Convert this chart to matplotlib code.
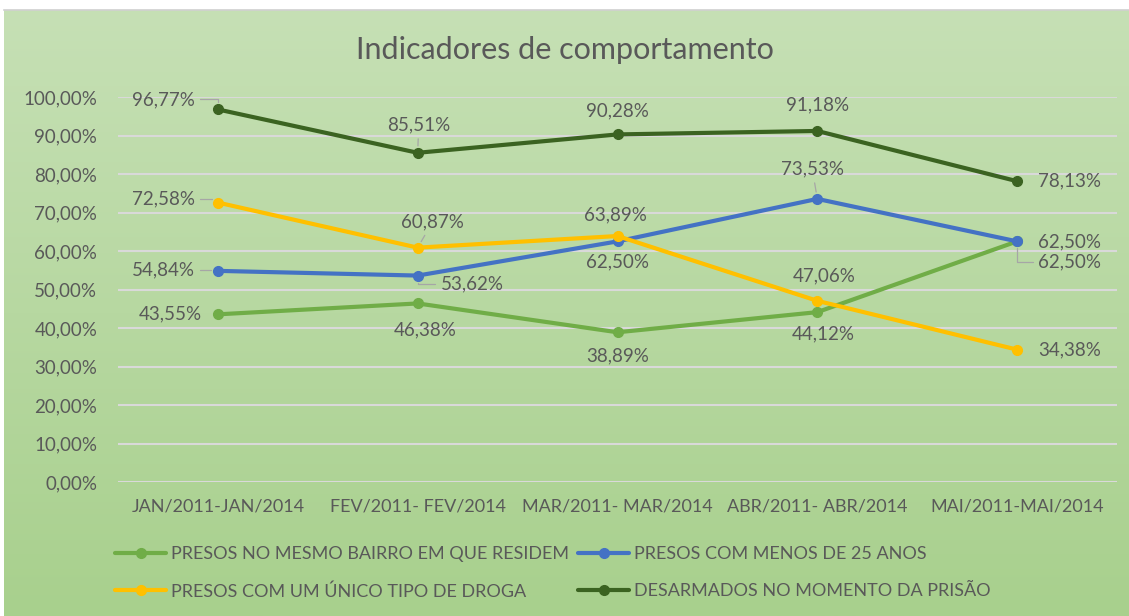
import numpy as np
import matplotlib
matplotlib.use('Agg')
import matplotlib.pyplot as plt
from matplotlib.lines import Line2D
from matplotlib.ticker import FuncFormatter

# dados
periodos = ['JAN/2011-JAN/2014', 'FEV/2011- FEV/2014', 'MAR/2011- MAR/2014',
            'ABR/2011- ABR/2014', 'MAI/2011-MAI/2014']
mesmo_bairro = [43.55, 46.38, 38.89, 44.12, 62.50]
menos_25 = [54.84, 53.62, 62.50, 73.53, 62.50]
unica_droga = [72.58, 60.87, 63.89, 47.06, 34.38]
desarmados = [96.77, 85.51, 90.28, 91.18, 78.13]

nomes = ['PRESOS NO MESMO BAIRRO EM QUE RESIDEM', 'PRESOS COM MENOS DE 25 ANOS',
         'PRESOS COM UM ÚNICO TIPO DE DROGA', 'DESARMADOS NO MOMENTO DA PRISÃO']
cores = ['#70AD47', '#4472C4', '#FFC000', '#3B6321']

# posição dos rótulos (dx, dy em pixels, alinhamento, linha de chamada)
rot_bairro = [(-16, 0, 'right', None), (8, -26, 'center', None), (0, -24, 'center', None),
              (6, -22, 'center', None), (21, -21, 'left', 'angle')]
rot_25 = [(-23, 1, 'right', 'angle'), (23, -8, 'left', 'angle'), (0, -20, 'center', None),
          (-5, 30, 'center', 'reta'), (21, 0, 'left', None)]
rot_droga = [(-23, 4, 'right', 'angle'), (15, 26, 'center', 'reta'), (-2, 21, 'center', None),
             (7, 25, 'center', None), (21, 0, 'left', None)]
rot_desarm = [(-23, 10, 'right', 'angle'), (1, 28, 'center', 'reta'), (0, 24, 'center', None),
              (0, 26, 'center', None), (21, 0, 'left', None)]

cinza = '#595959'
fonte = ['Lato', 'DejaVu Sans']

fig = plt.figure(figsize=(11.29, 6.16), dpi=100)
fig.patch.set_facecolor('white')

# fundo em degradê verde
bg = fig.add_axes([4 / 1129, 0, 1 - 4 / 1129, 606 / 616], zorder=-5)
grad = np.linspace(0, 1, 256)[:, None]
top = np.array([198, 224, 181]) / 255
bot = np.array([168, 208, 141]) / 255
img = top[None, None, :] * (1 - grad[..., None]) + bot[None, None, :] * grad[..., None]
bg.imshow(img, aspect='auto', extent=[0, 1, 0, 1])
bg.set_axis_off()
fig.add_artist(Line2D([4 / 1129, 1], [606 / 616, 606 / 616], color='#D0D0D0', lw=1.2))

ax = fig.add_axes([118 / 1129, 134 / 616, 999 / 1129, 385 / 616])
ax.patch.set_alpha(0)
x = np.arange(len(periodos))

series = [mesmo_bairro, menos_25, unica_droga, desarmados]
rotulos = [rot_bairro, rot_25, rot_droga, rot_desarm]
linhas = []
for vals, cor, nome, rots in zip(series, cores, nomes, rotulos):
    v = np.array(vals) / 100
    ln, = ax.plot(x, v, color=cor, lw=3, marker='o', ms=7, label=nome, zorder=3,
                  solid_capstyle='round')
    linhas.append(ln)
    for xi, vi, (dx, dy, ha, lead) in zip(x, v, rots):
        txt = f'{vi * 100:.2f}%'.replace('.', ',')
        kw = {}
        if lead:
            cs = 'angle,angleA=0,angleB=90,rad=0' if lead == 'angle' else 'arc3'
            kw['arrowprops'] = dict(arrowstyle='-', color='#A6A6A6', lw=0.9,
                                    shrinkA=2, shrinkB=5, connectionstyle=cs)
        ax.annotate(txt, (xi, vi), xytext=(dx, dy), textcoords='offset pixels',
                    ha=ha, va='center', fontsize=13.5, color=cinza,
                    family=fonte, zorder=4, **kw)

ax.set_xlim(-0.5, 4.5)
ax.set_ylim(0, 1)
ax.set_yticks(np.arange(0, 1.01, 0.1))
ax.yaxis.set_major_formatter(FuncFormatter(lambda v, p: f'{v * 100:.2f}%'.replace('.', ',')))
ax.set_xticks(x)
ax.set_xticklabels(periodos, family=fonte, fontsize=13, color=cinza)
for lab in ax.get_yticklabels():
    lab.set_family(fonte)
ax.tick_params(axis='y', length=0, labelsize=13.5, labelcolor=cinza, pad=15)
ax.tick_params(axis='x', length=0, pad=12)
ax.grid(axis='y', color='#D9D9D9', lw=1.5)
ax.set_axisbelow(True)
for s in ax.spines.values():
    s.set_visible(False)

fig.text(0.5, 1 - 50 / 616, 'Indicadores de comportamento', ha='center', va='center',
         fontsize=22, color=cinza, family=fonte)

ordem = [0, 2, 1, 3]
leg = fig.legend([linhas[i] for i in ordem], [nomes[i] for i in ordem], ncol=2,
                 loc='center left', bbox_to_anchor=(99 / 1129, 1 - 573 / 616),
                 frameon=False, handlelength=2.8, handletextpad=0.3,
                 columnspacing=0.5, labelspacing=1.15,
                 prop={'family': fonte, 'size': 13})
for t in leg.get_texts():
    t.set_color(cinza)

fig.savefig('out.png', dpi=100)
